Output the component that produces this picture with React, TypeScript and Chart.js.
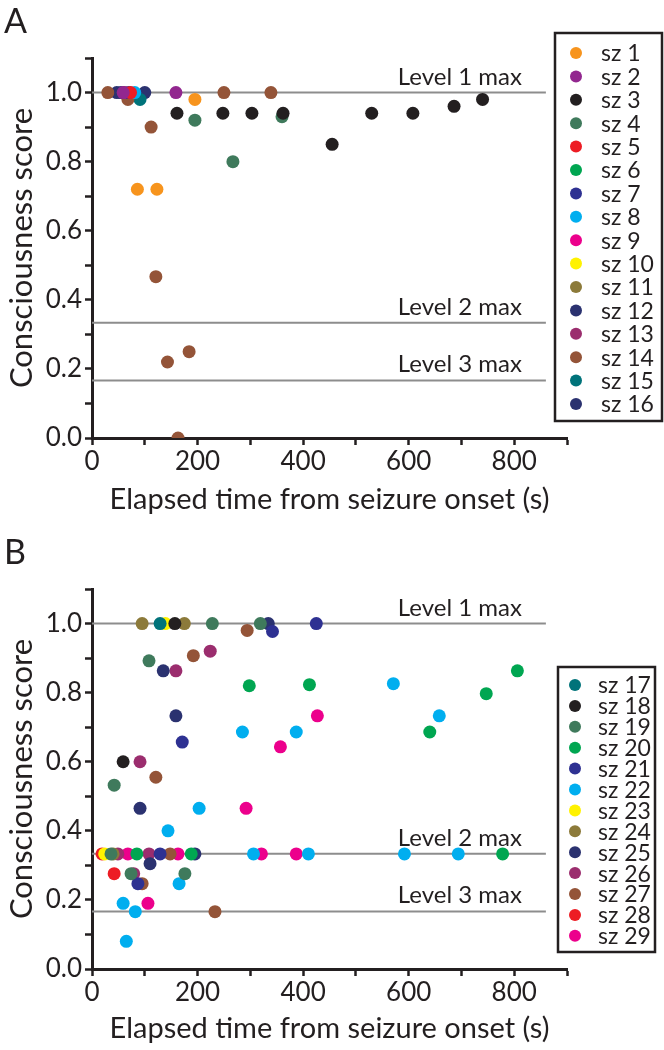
import React, { useEffect, useRef } from 'react';
import { Chart, registerables } from 'chart.js';

Chart.register(...registerables);

type P = [number, number];

const FONT = 'Lato, "Open Sans", "DejaVu Sans", sans-serif';
const INK = '#231f20';

const X_MIN = 0;
const X_MAX = 900;
const X_STEP = 100;
const X_LABEL_EVERY = 200;
const Y_MIN = 0;
const Y_MAX = 1.1;
const Y_STEP = 0.1;

const X_TITLE = 'Elapsed time from seizure onset (s)';
const Y_TITLE = 'Consciousness score';

const LEVEL_VALUES = [1, 1 / 3, 1 / 6];
const LEVEL_LABELS = ['Level 1 max', 'Level 2 max', 'Level 3 max'];
const LEVEL_START = 0;
const LEVEL_END = 860;

// ---------- Panel A ----------
const sz1: P[] = [[86, 0.72], [123, 0.72], [195, 0.98]];
const sz2: P[] = [[59, 1.0], [159, 1.0]];
const sz3: P[] = [[161, 0.94], [248, 0.94], [303, 0.94], [362, 0.94], [455, 0.85], [530, 0.94], [608, 0.94], [686, 0.96], [740, 0.98]];
const sz4: P[] = [[195, 0.92], [267, 0.8], [360, 0.93]];
const sz5: P[] = [[73, 1.0]];
const sz6: P[] = [];
const sz7: P[] = [[70, 1.0]];
const sz8: P[] = [[81, 1.0]];
const sz9: P[] = [];
const sz10: P[] = [];
const sz11: P[] = [];
const sz12: P[] = [[55, 1.0]];
const sz13: P[] = [[62, 1.0]];
const sz14: P[] = [[30, 1.0], [68, 0.98], [112, 0.9], [121, 0.467], [143, 0.22], [163, 0.0], [184, 0.25], [250, 1.0], [339, 1.0]];
const sz15: P[] = [[91, 0.98]];
const sz16: P[] = [[47, 1.0], [100, 1.0]];

const A_LABELS = ['sz 1', 'sz 2', 'sz 3', 'sz 4', 'sz 5', 'sz 6', 'sz 7', 'sz 8', 'sz 9', 'sz 10', 'sz 11', 'sz 12', 'sz 13', 'sz 14', 'sz 15', 'sz 16'];
const A_COLORS = ['#f7941d', '#92278f', '#231f20', '#3f7a5c', '#ed1c24', '#00a651', '#2e3192', '#00aeef', '#ec008c', '#fff200', '#8c7a3a', '#2b3270', '#9b2d6e', '#945438', '#00737a', '#2b3270'];
const A_SERIES = [sz1, sz2, sz3, sz4, sz5, sz6, sz7, sz8, sz9, sz10, sz11, sz12, sz13, sz14, sz15, sz16];

// ---------- Panel B ----------
const sz17: P[] = [[129, 1.0]];
const sz18: P[] = [[157, 1.0], [59, 0.6]];
const sz19: P[] = [[228, 1.0], [319, 1.0], [108, 0.892], [42, 0.532], [74, 0.276], [176, 0.276], [36, 0.333]];
const sz20: P[] = [[298, 0.82], [412, 0.823], [640, 0.686], [747, 0.797], [806, 0.863], [778, 0.333], [85, 0.333], [188, 0.333]];
const sz21: P[] = [[342, 0.977], [425, 1.0], [171, 0.657], [129, 0.333], [87, 0.247]];
const sz22: P[] = [[571, 0.826], [658, 0.733], [285, 0.686], [387, 0.686], [203, 0.465], [144, 0.4], [306, 0.333], [410, 0.333], [592, 0.333], [694, 0.333], [165, 0.247], [59, 0.19], [82, 0.166], [65, 0.08]];
const sz23: P[] = [[139, 1.0], [24, 0.333]];
const sz24: P[] = [[95, 1.0], [175, 1.0], [40, 0.333]];
const sz25: P[] = [[334, 1.0], [135, 0.863], [159, 0.733], [91, 0.465], [110, 0.305], [195, 0.333]];
const sz26: P[] = [[159, 0.863], [224, 0.92], [91, 0.6], [49, 0.333], [108, 0.333], [79, 0.276]];
const sz27: P[] = [[294, 0.98], [192, 0.907], [121, 0.555], [148, 0.333], [95, 0.247], [233, 0.166]];
const sz28: P[] = [[19, 0.333], [42, 0.276]];
const sz29: P[] = [[427, 0.733], [357, 0.643], [292, 0.465], [68, 0.333], [163, 0.333], [321, 0.333], [387, 0.333], [106, 0.19]];

const B_LABELS = ['sz 17', 'sz 18', 'sz 19', 'sz 20', 'sz 21', 'sz 22', 'sz 23', 'sz 24', 'sz 25', 'sz 26', 'sz 27', 'sz 28', 'sz 29'];
const B_COLORS = ['#00737a', '#231f20', '#3f7a5c', '#00a651', '#2e3192', '#00aeef', '#fff200', '#8c7a3a', '#2b3270', '#9b2d6e', '#945438', '#ed1c24', '#ec008c'];
const B_SERIES = [sz17, sz18, sz19, sz20, sz21, sz22, sz23, sz24, sz25, sz26, sz27, sz28, sz29];

type LegendBox = { x: number; y: number; w: number; h: number; row0: number; gap: number; dotX: number; textX: number };

type PanelProps = {
  letter: string;
  labels: string[];
  colors: string[];
  series: P[][];
  height: number;
  top: number;
  titlePadBottom: number;
  legend: LegendBox;
};

function Panel({ letter, labels, colors, series, height, top, titlePadBottom, legend }: PanelProps) {
  const ref = useRef<HTMLCanvasElement | null>(null);

  useEffect(() => {
    const canvas = ref.current;
    if (!canvas) return;

    const levelSets = LEVEL_VALUES.map((v) => ({
      type: 'scatter' as const,
      label: '__level',
      data: [{ x: LEVEL_START, y: v }, { x: LEVEL_END, y: v }],
      showLine: true,
      borderColor: '#8d8d8d',
      borderWidth: 2,
      pointRadius: 0,
      order: 10,
    }));

    const pointSets = series.map((s, i) => ({
      type: 'scatter' as const,
      label: labels[i],
      data: s.map(([x, y]) => ({ x, y })),
      backgroundColor: colors[i],
      borderWidth: 0,
      pointRadius: 6.5,
      pointHoverRadius: 6.5,
      order: 1,
    }));

    const overlay = {
      id: 'overlay',
      afterDatasetsDraw(chart: any) {
        const { ctx, scales } = chart;
        const xs = scales.x;
        const ys = scales.y;
        ctx.save();
        ctx.fillStyle = INK;
        ctx.font = `24px ${FONT}`;
        ctx.textAlign = 'right';
        ctx.textBaseline = 'alphabetic';
        const tx = xs.getPixelForValue(LEVEL_END) - 24;
        LEVEL_VALUES.forEach((v, i) => {
          ctx.fillText(LEVEL_LABELS[i], tx, ys.getPixelForValue(v) - 8);
        });
        ctx.restore();
      },
      afterDraw(chart: any) {
        const { ctx } = chart;
        ctx.save();
        // panel letter
        ctx.fillStyle = INK;
        ctx.font = `34px ${FONT}`;
        ctx.textAlign = 'left';
        ctx.textBaseline = 'alphabetic';
        ctx.fillText(letter, 4, 33);
        // legend box
        ctx.fillStyle = '#ffffff';
        ctx.fillRect(legend.x, legend.y, legend.w, legend.h);
        ctx.strokeStyle = INK;
        ctx.lineWidth = 2.5;
        ctx.strokeRect(legend.x, legend.y, legend.w, legend.h);
        ctx.font = `23px ${FONT}`;
        ctx.textBaseline = 'middle';
        const sets = chart.data.datasets.filter((d: any) => d.label !== '__level');
        sets.forEach((d: any, i: number) => {
          const y = legend.row0 + i * legend.gap;
          ctx.beginPath();
          ctx.arc(legend.dotX, y, 6, 0, Math.PI * 2);
          ctx.fillStyle = d.backgroundColor;
          ctx.fill();
          ctx.fillStyle = INK;
          ctx.fillText(d.label, legend.textX, y + 1);
        });
        ctx.restore();
      },
    };

    const chart = new Chart(canvas, {
      type: 'scatter',
      data: { datasets: [...levelSets, ...pointSets] as any },
      options: {
        animation: false,
        responsive: false,
        maintainAspectRatio: false,
        events: [],
        layout: { padding: { top: 58, right: 97, left: 0, bottom: 0 } },
        plugins: { legend: { display: false }, tooltip: { enabled: false } },
        scales: {
          x: {
            type: 'linear',
            min: X_MIN,
            max: X_MAX,
            afterFit: (s: any) => {
              s.height = height - 438;
            },
            ticks: {
              stepSize: X_STEP,
              autoSkip: false,
              maxRotation: 0,
              padding: 1,
              color: INK,
              font: { family: FONT, size: 26 },
              callback: (v: any) => (Math.round(v) % X_LABEL_EVERY === 0 ? String(Math.round(v)) : ''),
            },
            grid: { drawOnChartArea: false, drawTicks: true, tickLength: 7, tickWidth: 2.5, tickColor: INK },
            border: { display: true, color: INK, width: 3 },
            title: { display: true, text: X_TITLE, color: INK, font: { family: FONT, size: 29 }, padding: { top: 0, bottom: titlePadBottom } },
          },
          y: {
            type: 'linear',
            min: Y_MIN,
            max: Y_MAX,
            afterFit: (s: any) => {
              s.width = 92;
            },
            ticks: {
              stepSize: Y_STEP,
              autoSkip: false,
              padding: 3,
              color: INK,
              font: { family: FONT, size: 26 },
              callback: (v: any) => {
                const r = Math.round(v * 10);
                return r % 2 === 0 ? (r / 10).toFixed(1) : '';
              },
            },
            grid: { drawOnChartArea: false, drawTicks: true, tickLength: 7, tickWidth: 2.5, tickColor: INK },
            border: { display: true, color: INK, width: 3 },
            title: { display: true, text: Y_TITLE, color: INK, font: { family: FONT, size: 31 }, padding: { top: 3, bottom: 0 } },
          },
        },
      },
      plugins: [overlay],
    });

    return () => chart.destroy();
  }, [letter, labels, colors, series, height, titlePadBottom, legend]);

  return (
    <div style={{ position: 'absolute', left: 0, top, width: 664, height }}>
      <canvas ref={ref} width={664} height={height} style={{ display: 'block', width: 664, height }} />
    </div>
  );
}

const LEGEND_A: LegendBox = { x: 555, y: 33, w: 107, h: 388, row0: 53, gap: 23.4, dotX: 576, textX: 601 };
const LEGEND_B: LegendBox = { x: 558, y: 136, w: 97, h: 285, row0: 154, gap: 20.9, dotX: 575, textX: 598 };

export default function App() {
  return (
    <div style={{ position: 'absolute', left: 0, top: 0, width: 664, height: 1050, background: '#fff' }}>
      <Panel letter="A" labels={A_LABELS} colors={A_COLORS} series={A_SERIES} height={531} top={0} titlePadBottom={14} legend={LEGEND_A} />
      <Panel letter="B" labels={B_LABELS} colors={B_COLORS} series={B_SERIES} height={519} top={531} titlePadBottom={4} legend={LEGEND_B} />
    </div>
  );
}
